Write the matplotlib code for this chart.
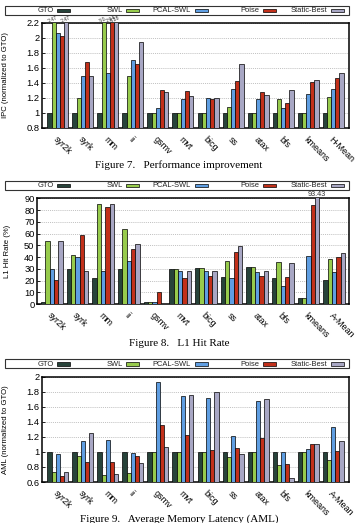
import matplotlib
matplotlib.use('Agg')
import matplotlib.pyplot as plt
import numpy as np
from matplotlib.patches import Rectangle

W, H = 358, 523

series = ['GTO', 'SWL', 'PCAL-SWL', 'Poise', 'Static-Best']
colors = ['#27433a', '#97cb4c', '#5f9ee2', '#c2301a', '#a8a7c4']

ipc_cats = ['syr2k', 'syrk', 'mm', 'ii', 'gsmv', 'mvt', 'bicg', 'ss', 'atax', 'bfs', 'kmeans', 'H-Mean']
ipc_gto = [1, 1, 1, 1, 1, 1, 1, 1, 1, 1, 1, 1]
ipc_swl = [2.47, 1.19, 3.0, 1.49, 1.0, 1.0, 1.0, 1.07, 1.0, 1.18, 1.0, 1.21]
ipc_pcal = [2.06, 1.49, 1.53, 1.70, 1.06, 1.18, 1.20, 1.31, 1.18, 1.06, 1.25, 1.31]
ipc_poise = [2.02, 1.68, 2.94, 1.65, 1.30, 1.29, 1.18, 1.42, 1.28, 1.13, 1.41, 1.46]
ipc_sb = [2.47, 1.49, 3.38, 1.94, 1.27, 1.22, 1.20, 1.65, 1.24, 1.30, 1.44, 1.53]
ipc_labels = {(0, 1): '2.47', (0, 4): '2.47', (2, 1): '3.0', (2, 3): '2.94', (2, 4): '3.38'}

l1_cats = ['syr2k', 'syrk', 'mm', 'ii', 'gsmv', 'mvt', 'bicg', 'ss', 'atax', 'bfs', 'kmeans', 'A-Mean']
l1_gto = [2, 30, 22, 29.5, 1.5, 30, 30.7, 23.3, 31.2, 22, 5, 20.7]
l1_swl = [54, 42, 85, 64, 1.5, 30, 30.7, 36.4, 31.2, 35.5, 5, 38]
l1_pcal = [30, 40, 28, 37, 2, 27.8, 28, 22.4, 27.6, 15, 40.9, 27]
l1_poise = [20.5, 59, 83, 47, 10, 22.4, 24, 44, 24, 23.3, 84.7, 40]
l1_sb = [54, 28, 85, 51, 0, 27.8, 28, 49.4, 28, 34.7, 93.43, 43.7]
l1_labels = {(10, 4): '93.43'}

aml_cats = ['syr2k', 'syrk', 'mm', 'ii', 'gsmv', 'mvt', 'bicg', 'ss', 'atax', 'bfs', 'kmeans', 'A-Mean']
aml_gto = [1, 1, 1, 1, 1, 1, 1, 1, 1, 1, 1, 1]
aml_swl = [0.73, 0.94, 0.69, 0.715, 1.0, 1.0, 1.0, 0.93, 1.0, 0.83, 1.0, 0.89]
aml_pcal = [0.97, 1.14, 1.16, 0.99, 1.93, 1.74, 1.72, 1.21, 1.68, 1.0, 1.04, 1.33]
aml_poise = [0.68, 0.87, 0.87, 0.94, 1.36, 1.22, 1.03, 1.05, 1.19, 0.84, 1.10, 1.01]
aml_sb = [0.73, 1.25, 0.71, 0.85, 1.07, 1.76, 1.80, 0.97, 1.70, 0.65, 1.11, 1.15]

plt.rcParams['font.family'] = ['Liberation Sans', 'DejaVu Sans']

fig = plt.figure(figsize=(W / 100, H / 100), dpi=100)


def fx(px):
    return px / W


def fy(py):
    return 1 - py / H


def draw_legend(ytop, ybot):
    box = Rectangle((fx(5), fy(ybot)), fx(348.7) - fx(5), fy(ytop) - fy(ybot),
                    transform=fig.transFigure, fill=False, lw=0.8, ec='#333333')
    fig.add_artist(box)
    ends = [70, 139, 207.5, 276, 344]
    ymid = (ytop + ybot) / 2
    for name, c, e in zip(series, colors, ends):
        sw = Rectangle((fx(e - 13), fy(ymid + 1.7)), fx(13), 3.4 / H,
                       transform=fig.transFigure, fc=c, ec='black', lw=0.5)
        fig.add_artist(sw)
        fig.text(fx(e - 16.5), fy(ymid + 0.3), name, ha='right', va='center',
                 fontsize=5.4, color='#222222')


def draw_chart(rect, cats, data, ylim, yticks, ylabel, labels, ylabel_x, label_rot, xm):
    ax = fig.add_axes(rect)
    n = len(cats)
    x = np.arange(n)
    w = 0.168
    for i, (vals, c) in enumerate(zip(data, colors)):
        ax.bar(x + (i - 2) * w, vals, w, color=c, edgecolor='black', linewidth=0.5,
               zorder=3)
    for (g, s), t in labels.items():
        ax.text(x[g] + (s - 2) * w, ylim[1] + (ylim[1] - ylim[0]) * 0.006, t,
                ha='center', va='bottom', fontsize=3.8 if label_rot else 5.2,
                rotation=label_rot, rotation_mode='anchor' if label_rot else 'default',
                color='#333333', clip_on=False)
    ax.set_xlim(-xm, n - 1 + xm)
    ax.set_ylim(*ylim)
    ax.set_yticks(yticks)
    ax.set_yticklabels([('%g' % t) for t in yticks], fontsize=6.7)
    ax.set_xticks(x)
    ax.set_xticklabels(cats, rotation=-45, ha='left', va='top',
                       rotation_mode='anchor', fontsize=6.5)
    ax.tick_params(axis='x', length=0, pad=5)
    ax.tick_params(axis='y', length=2, width=0.6, pad=2, direction='in')
    ax.yaxis.grid(True, linestyle=(0, (1.5, 1.5)), color='#aaaaaa', linewidth=0.5, zorder=0)
    ax.set_axisbelow(True)
    for sp in ax.spines.values():
        sp.set_linewidth(1.1)
    ax.set_ylabel(ylabel, fontsize=5.6)
    ax.yaxis.set_label_coords(ylabel_x, 0.5)
    return ax


draw_legend(5.7, 15)
draw_chart([fx(42.3), fy(127.7), fx(348.7) - fx(42.3), (127.7 - 22.7) / H],
           ipc_cats, [ipc_gto, ipc_swl, ipc_pcal, ipc_poise, ipc_sb],
           (0.8, 2.2), [0.8, 1, 1.2, 1.4, 1.6, 1.8, 2, 2.2],
           'IPC (normalized to GTO)', ipc_labels, -0.108, 25, 0.62)
fig.text(0.5, fy(165), 'Figure 7.   Performance improvement', ha='center', va='center',
         fontsize=8, family='Liberation Serif')

draw_legend(181, 190)
draw_chart([fx(37.3), fy(304), fx(348.7) - fx(37.3), (304 - 198.3) / H],
           l1_cats, [l1_gto, l1_swl, l1_pcal, l1_poise, l1_sb],
           (0, 90), [0, 10, 20, 30, 40, 50, 60, 70, 80, 90],
           'L1 Hit Rate (%)', l1_labels, -0.085, 0, 0.57)
fig.text(0.5, fy(343), 'Figure 8.   L1 Hit Rate', ha='center', va='center',
         fontsize=8, family='Liberation Serif')

draw_legend(359.3, 368.3)
draw_chart([fx(42.3), fy(482), fx(348.7) - fx(42.3), (482 - 376.7) / H],
           aml_cats, [aml_gto, aml_swl, aml_pcal, aml_poise, aml_sb],
           (0.6, 2.0), [0.6, 0.8, 1, 1.2, 1.4, 1.6, 1.8, 2],
           'AML (normalized to GTO)', {}, -0.108, 0, 0.62)
fig.text(0.5, fy(519), 'Figure 9.   Average Memory Latency (AML)', ha='center', va='center',
         fontsize=8, family='Liberation Serif')

fig.savefig('out.png', dpi=100)
